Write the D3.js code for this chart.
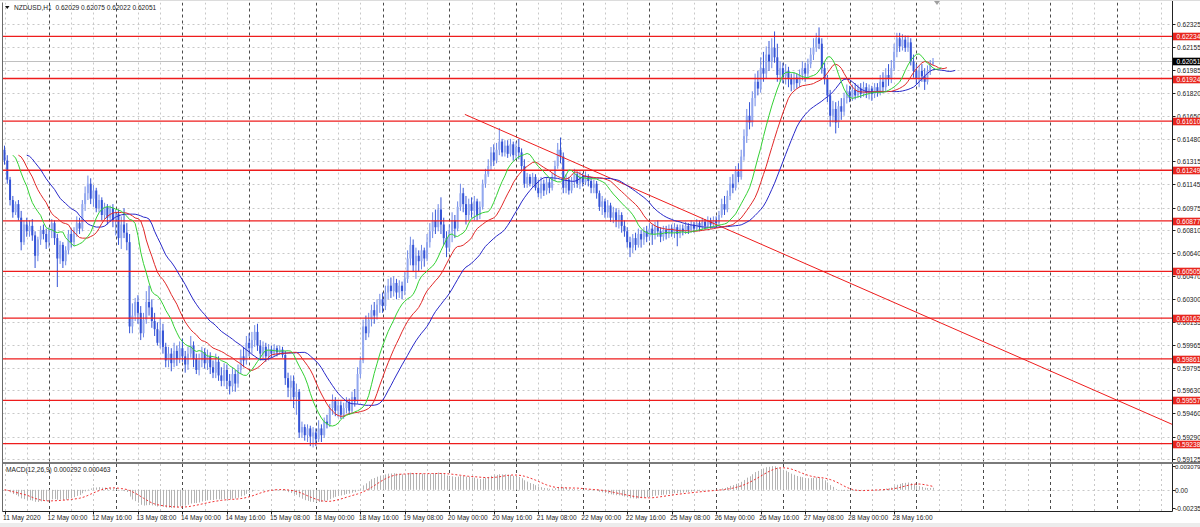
<!DOCTYPE html>
<html><head><meta charset="utf-8">
<script src="https://cdn.jsdelivr.net/npm/d3@7"></script>
<style>
html,body{margin:0;padding:0;background:#fff;}
svg{display:block;font-family:"Liberation Sans",Arial,sans-serif;}
</style></head><body>
<svg id="c" width="1200" height="527"></svg>
<script>
// ---------------- DATA ----------------
const symbolTitle = "NZDUSD,H1";
const lastQuote = ["0.62029","0.62075","0.62022","0.62051"];

const opens = [
.6140,.6132,.6118,.6103,.6094,.6100,.6090,.6072,.6085,.6080,
.6084,.6077,.6062,.6074,.6081,.6078,.6072,.6080,.6086,.6075,
.6060,.6070,.6058,.6066,.6078,.6072,.6080,.6086,.6082,.6100,
.6108,.6115,.6104,.6110,.6097,.6103,.6092,.6098,.6090,.6097,
.6088,.6093,.6075,.6085,.6079,.6072,.6010,.6018,.6028,.6020,
.6005,.6015,.6028,.6024,.6014,.6008,.5998,.6007,.5995,.5985,
.5990,.5983,.5992,.5986,.5994,.5988,.5982,.5990,.5996,.5986,
.5978,.5985,.5991,.5983,.5988,.5980,.5976,.5984,.5974,.5970,
.5978,.5970,.5966,.5975,.5968,.5978,.5988,.5985,.5998,.5994,
.6000,.6006,.5996,.5990,.5995,.5988,.5993,.5990,.5994,.5991,
.5993,.5989,.5972,.5965,.5970,.5958,.5962,.5932,.5936,.5930,
.5935,.5929,.5932,.5927,.5935,.5930,.5940,.5938,.5950,.5955,
.5948,.5952,.5945,.5950,.5954,.5948,.5958,.5955,.5975,.5985,
.6010,.6005,.6015,.6022,.6018,.6026,.6030,.6025,.6035,.6040,
.6036,.6042,.6035,.6040,.6036,.6045,.6060,.6070,.6055,.6062,
.6058,.6066,.6060,.6072,.6080,.6088,.6083,.6096,.6085,.6075,
.6068,.6080,.6088,.6082,.6098,.6108,.6100,.6092,.6100,.6095,
.6102,.6092,.6098,.6115,.6122,.6128,.6138,.6132,.6140,.6146,
.6138,.6143,.6137,.6144,.6136,.6142,.6138,.6128,.6115,.6120,
.6115,.6120,.6112,.6108,.6115,.6110,.6116,.6112,.6120,.6128,
.6140,.6135,.6112,.6118,.6110,.6116,.6122,.6115,.6120,.6116,
.6120,.6117,.6112,.6115,.6108,.6098,.6102,.6094,.6099,.6090,
.6094,.6088,.6092,.6084,.6080,.6072,.6068,.6075,.6070,.6078,
.6074,.6080,.6076,.6082,.6078,.6083,.6080,.6076,.6081,.6078,
.6082,.6079,.6083,.6078,.6082,.6080,.6084,.6081,.6085,.6082,
.6086,.6083,.6087,.6084,.6088,.6085,.6088,.6086,.6092,.6100,
.6096,.6106,.6115,.6112,.6124,.6120,.6135,.6150,.6165,.6160,
.6178,.6190,.6185,.6200,.6196,.6210,.6205,.6215,.6208,.6195,
.6200,.6194,.6198,.6192,.6188,.6193,.6189,.6195,.6200,.6196,
.6203,.6210,.6215,.6222,.6218,.6200,.6192,.6180,.6165,.6170,
.6160,.6172,.6168,.6178,.6183,.6178,.6184,.6180,.6185,.6181,
.6186,.6182,.6185,.6181,.6186,.6183,.6190,.6186,.6195,.6192,
.6200,.6212,.6222,.6216,.6221,.6215,.6219,.6205,.6198,.6192,
.6198,.6194,.6190,.6198,.62029];

const highs = [
.6143,.6136,.6120,.6106,.6102,.6103,.6095,.6088,.6090,.6088,
.6089,.6080,.6076,.6084,.6085,.6082,.6083,.6089,.6088,.6078,
.6073,.6072,.6069,.6081,.6082,.6083,.6091,.6090,.6103,.6113,
.6121,.6119,.6114,.6112,.6107,.6105,.6101,.6100,.6099,.6100,
.6096,.6096,.6091,.6097,.6086,.6078,.6027,.6031,.6033,.6025,
.6020,.6036,.6040,.6030,.6020,.6013,.6016,.6012,.5998,.5995,
.5994,.5998,.5996,.5999,.6001,.5992,.5995,.6003,.5999,.5990,
.5990,.5995,.5994,.5993,.5991,.5985,.5990,.5988,.5980,.5983,
.5982,.5975,.5980,.5978,.5982,.5993,.5995,.6003,.6005,.6006,
.6011,.6012,.6000,.5999,.5998,.5997,.5996,.5997,.5996,.5996,
.5995,.5992,.5976,.5974,.5974,.5968,.5964,.5940,.5938,.5938,
.5937,.5936,.5935,.5941,.5938,.5943,.5945,.5953,.5960,.5958,
.5956,.5955,.5954,.5958,.5957,.5962,.5964,.5980,.5988,.6015,
.6018,.6020,.6026,.6028,.6030,.6034,.6035,.6040,.6045,.6046,
.6047,.6045,.6044,.6043,.6050,.6066,.6076,.6074,.6068,.6066,
.6070,.6068,.6078,.6086,.6094,.6096,.6100,.6105,.6090,.6080,
.6085,.6094,.6092,.6102,.6115,.6112,.6106,.6104,.6105,.6106,
.6104,.6102,.6118,.6126,.6133,.6142,.6144,.6145,.6156,.6148,
.6147,.6147,.6148,.6146,.6146,.6148,.6141,.6133,.6123,.6122,
.6123,.6122,.6118,.6120,.6118,.6120,.6119,.6123,.6132,.6145,
.6149,.6138,.6122,.6120,.6120,.6126,.6124,.6124,.6123,.6124,
.6122,.6119,.6118,.6117,.6110,.6106,.6104,.6103,.6101,.6098,
.6097,.6096,.6094,.6088,.6083,.6076,.6078,.6079,.6082,.6081,
.6083,.6084,.6086,.6085,.6087,.6088,.6083,.6084,.6084,.6085,
.6085,.6086,.6085,.6085,.6085,.6087,.6086,.6088,.6087,.6089,
.6088,.6090,.6089,.6091,.6090,.6091,.6091,.6095,.6104,.6106,
.6110,.6120,.6122,.6128,.6130,.6140,.6155,.6170,.6175,.6183,
.6196,.6198,.6208,.6212,.6216,.6220,.6222,.6227,.6218,.6205,
.6204,.6203,.6201,.6196,.6197,.6196,.6199,.6205,.6204,.6207,
.6215,.6222,.6226,.6230,.6222,.6204,.6195,.6184,.6176,.6175,
.6176,.6178,.6182,.6188,.6187,.6188,.6189,.6188,.6189,.6190,
.6189,.6188,.6187,.6189,.6189,.6195,.6197,.6200,.6203,.6206,
.6218,.6226,.6226,.6225,.6224,.6224,.6222,.6210,.6203,.6202,
.6203,.6200,.6202,.6206,.62075];

const lows = [
.6129,.6115,.6099,.6090,.6092,.6088,.6066,.6070,.6076,.6076,
.6073,.6053,.6058,.6070,.6074,.6067,.6068,.6075,.6070,.6039,
.6056,.6053,.6055,.6063,.6068,.6069,.6076,.6078,.6080,.6095,
.6103,.6100,.6098,.6094,.6094,.6088,.6089,.6085,.6087,.6083,
.6077,.6070,.6067,.6075,.6066,.6005,.6005,.6014,.6012,.6000,
.6002,.6012,.6018,.6009,.6003,.5996,.5994,.5990,.5980,.5980,
.5977,.5980,.5981,.5983,.5984,.5976,.5978,.5987,.5980,.5975,
.5974,.5980,.5979,.5978,.5975,.5972,.5972,.5970,.5966,.5966,
.5964,.5960,.5962,.5962,.5965,.5975,.5980,.5982,.5988,.5990,
.5995,.5992,.5985,.5986,.5984,.5985,.5987,.5988,.5988,.5989,
.5987,.5967,.5958,.5955,.5950,.5945,.5928,.5928,.5926,.5925,
.5922,.5921,.5922,.5925,.5925,.5928,.5935,.5936,.5945,.5944,
.5943,.5942,.5942,.5946,.5945,.5946,.5951,.5953,.5972,.5983,
.6000,.6002,.6010,.6012,.6015,.6020,.6020,.6022,.6030,.6031,
.6032,.6030,.6031,.6030,.6033,.6042,.6055,.6050,.6045,.6050,
.6052,.6054,.6058,.6068,.6075,.6078,.6080,.6078,.6070,.6061,
.6065,.6072,.6075,.6080,.6095,.6094,.6085,.6088,.6090,.6088,
.6088,.6089,.6096,.6112,.6120,.6125,.6128,.6130,.6136,.6135,
.6135,.6134,.6135,.6132,.6133,.6133,.6125,.6112,.6112,.6113,
.6112,.6110,.6105,.6104,.6106,.6107,.6108,.6110,.6117,.6126,
.6130,.6108,.6108,.6107,.6108,.6112,.6112,.6111,.6113,.6114,
.6113,.6108,.6108,.6104,.6095,.6092,.6090,.6090,.6087,.6086,
.6083,.6082,.6079,.6076,.6068,.6061,.6064,.6066,.6068,.6068,
.6070,.6072,.6073,.6070,.6074,.6076,.6072,.6073,.6074,.6075,
.6076,.6075,.6069,.6075,.6077,.6078,.6078,.6079,.6079,.6080,
.6080,.6081,.6081,.6082,.6082,.6083,.6083,.6084,.6090,.6092,
.6094,.6103,.6108,.6110,.6116,.6118,.6132,.6145,.6155,.6157,
.6172,.6180,.6182,.6190,.6192,.6198,.6200,.6204,.6190,.6190,
.6189,.6188,.6186,.6183,.6184,.6185,.6186,.6191,.6190,.6193,
.6200,.6206,.6212,.6214,.6196,.6188,.6175,.6157,.6160,.6152,
.6156,.6162,.6165,.6174,.6175,.6176,.6177,.6178,.6178,.6179,
.6178,.6177,.6176,.6178,.6179,.6180,.6182,.6183,.6187,.6189,
.6198,.6208,.6212,.6213,.6212,.6212,.6202,.6193,.6188,.6186,
.6190,.6184,.6188,.6195,.62022];

const closes = [
.6132,.6118,.6103,.6094,.6100,.6090,.6072,.6085,.6080,.6084,
.6077,.6062,.6074,.6081,.6078,.6072,.6080,.6086,.6075,.6060,
.6070,.6058,.6066,.6078,.6072,.6080,.6086,.6082,.6100,.6108,
.6115,.6104,.6110,.6097,.6103,.6092,.6098,.6090,.6097,.6088,
.6093,.6075,.6085,.6079,.6072,.6010,.6018,.6028,.6020,.6005,
.6015,.6028,.6024,.6014,.6008,.5998,.6007,.5995,.5985,.5990,
.5983,.5992,.5986,.5994,.5988,.5982,.5990,.5996,.5986,.5978,
.5985,.5991,.5983,.5988,.5980,.5976,.5984,.5974,.5970,.5978,
.5970,.5966,.5975,.5968,.5978,.5988,.5985,.5998,.5994,.6000,
.6006,.5996,.5990,.5995,.5988,.5993,.5990,.5994,.5991,.5993,
.5989,.5972,.5965,.5970,.5958,.5962,.5932,.5936,.5930,.5935,
.5929,.5932,.5927,.5935,.5930,.5940,.5938,.5950,.5955,.5948,
.5952,.5945,.5950,.5954,.5948,.5958,.5955,.5975,.5985,.6010,
.6005,.6015,.6022,.6018,.6026,.6030,.6025,.6035,.6040,.6036,
.6042,.6035,.6040,.6036,.6045,.6060,.6070,.6055,.6062,.6058,
.6066,.6060,.6072,.6080,.6088,.6083,.6096,.6085,.6075,.6068,
.6080,.6088,.6082,.6098,.6108,.6100,.6092,.6100,.6095,.6102,
.6092,.6098,.6115,.6122,.6128,.6138,.6132,.6140,.6146,.6138,
.6143,.6137,.6144,.6136,.6142,.6138,.6128,.6115,.6120,.6115,
.6120,.6112,.6108,.6115,.6110,.6116,.6112,.6120,.6128,.6140,
.6135,.6112,.6118,.6110,.6116,.6122,.6115,.6120,.6116,.6120,
.6117,.6112,.6115,.6108,.6098,.6102,.6094,.6099,.6090,.6094,
.6088,.6092,.6084,.6080,.6072,.6068,.6075,.6070,.6078,.6074,
.6080,.6076,.6082,.6078,.6083,.6080,.6076,.6081,.6078,.6082,
.6079,.6083,.6078,.6082,.6080,.6084,.6081,.6085,.6082,.6086,
.6083,.6087,.6084,.6088,.6085,.6088,.6086,.6092,.6100,.6096,
.6106,.6115,.6112,.6124,.6120,.6135,.6150,.6165,.6160,.6178,
.6190,.6185,.6200,.6196,.6210,.6205,.6215,.6208,.6195,.6200,
.6194,.6198,.6192,.6188,.6193,.6189,.6195,.6200,.6196,.6203,
.6210,.6215,.6222,.6218,.6200,.6192,.6180,.6165,.6170,.6160,
.6172,.6168,.6178,.6183,.6178,.6184,.6180,.6185,.6181,.6186,
.6182,.6185,.6181,.6186,.6183,.6190,.6186,.6195,.6192,.6200,
.6212,.6222,.6216,.6221,.6215,.6219,.6205,.6198,.6192,.6198,
.6194,.6190,.6198,.6203,.62051];

const xTickIdx = [0,16,32,48,64,80,96,112,128,144,160,176,192,208,224,240,256,272,288,304,320];
const xTickLabels = ["11 May 2020","12 May 00:00","12 May 16:00","13 May 08:00","14 May 00:00",
  "14 May 16:00","15 May 08:00","18 May 00:00","18 May 16:00","19 May 08:00","20 May 00:00",
  "20 May 16:00","21 May 08:00","22 May 00:00","22 May 16:00","25 May 08:00","26 May 00:00",
  "26 May 16:00","27 May 08:00","28 May 00:00","28 May 16:00"];

const priceTicks = [0.62325,0.62155,0.61985,0.61820,0.61650,0.61480,0.61315,0.61145,0.60975,0.60810,
  0.60640,0.60470,0.60300,0.60135,0.59965,0.59795,0.59630,0.59460,0.59290,0.59125];
const levelPrices = [0.62234,0.61924,0.61610,0.61249,0.60877,0.60505,0.60162,0.59861,0.59557,0.59238];
const bidPrice = 0.62051;
const trendIdx = [165.6, 420];
const trendPrice = [0.6166, 0.5938];

const macdTicks = [0.003079, 0, -0.00235];
const macdTickLabels = ["0.003079","0.00","-0.00235"];
const macdParams = [12,26,9];
const macdLegend = ["0.000292","0.000463"];
const alligatorPeriods = [13,8,5];  // jaw, teeth, lips
const alligatorShifts  = [8,5,3];

// ---------------- LAYOUT ----------------
const W=1200,H=527;
const plotL=2.5, plotR=1172.5, mainTop=2.5, mainBot=462.5, macdTop=464, macdBot=511.5;
const N = closes.length;
const svg=d3.select("#c");
svg.append("rect").attr("width",W).attr("height",H).attr("fill","#fff");
svg.append("rect").attr("x",0).attr("y",523).attr("width",W).attr("height",4).attr("fill","#ececec");

const x=d3.scaleLinear().domain([0,420]).range([4.5,4.5+420*2.78]);
const y=d3.scaleLinear().domain([priceTicks[priceTicks.length-1],priceTicks[0]]).range([459,24]);
const ym=d3.scaleLinear().domain([macdTicks[2],macdTicks[0]]).range([508,466]);

const defs=svg.append("defs");
defs.append("clipPath").attr("id","cm").append("rect").attr("x",plotL).attr("y",mainTop).attr("width",plotR-plotL).attr("height",mainBot-mainTop);
defs.append("clipPath").attr("id","cd").append("rect").attr("x",plotL).attr("y",macdTop).attr("width",plotR-plotL).attr("height",macdBot-macdTop);

const gMain=svg.append("g").attr("clip-path","url(#cm)");
const gMacd=svg.append("g").attr("clip-path","url(#cd)");

// vertical grid
const vIdx=d3.range(0,421,8);
[[gMain,mainTop,mainBot],[gMacd,macdTop,macdBot]].forEach(([g,t,b])=>{
  vIdx.forEach(i=>{
    const dark=((i-16)%24===0);
    const xx=Math.round(x(i))+0.5;
    g.append("line").attr("x1",xx).attr("x2",xx).attr("y1",t).attr("y2",b)
      .attr("stroke",dark?"#4a4a4a":"#c8c8c8").attr("stroke-width",1)
      .attr("stroke-dasharray",dark?"3,3":"2,3");
  });
});
// horizontal grid
priceTicks.forEach(p=>{
  const yy=Math.round(y(p))+0.5;
  gMain.append("line").attr("x1",plotL).attr("x2",plotR).attr("y1",yy).attr("y2",yy)
    .attr("stroke","#c8c8c8").attr("stroke-dasharray","2,3");
});
gMacd.append("line").attr("x1",plotL).attr("x2",plotR).attr("y1",Math.round(ym(0))+0.5).attr("y2",Math.round(ym(0))+0.5)
  .attr("stroke","#c8c8c8").attr("stroke-dasharray","2,3");

// bid line
gMain.append("line").attr("x1",plotL).attr("x2",plotR).attr("y1",Math.round(y(bidPrice))+0.5).attr("y2",Math.round(y(bidPrice))+0.5)
  .attr("stroke","#c0c0c0");

// candles
const cg=gMain.append("g");
d3.range(N).forEach(i=>{
  const up=closes[i]>=opens[i];
  const xc=x(i);
  cg.append("line").attr("x1",xc).attr("x2",xc).attr("y1",y(highs[i])).attr("y2",y(lows[i]))
    .attr("stroke",up?"#6f89e6":"#3554d6").attr("stroke-width",1);
  const top=y(Math.max(opens[i],closes[i])), bot=y(Math.min(opens[i],closes[i]));
  cg.append("rect").attr("x",xc-1).attr("y",top).attr("width",2).attr("height",Math.max(1,bot-top))
    .attr("fill",up?"#93a8ef":"#3554d6");
});

// levels
levelPrices.forEach(p=>{
  const yy=y(p);
  gMain.append("line").attr("x1",plotL).attr("x2",plotR).attr("y1",yy).attr("y2",yy)
    .attr("stroke","#ee1c1c").attr("stroke-width",1.3);
});
// trend line
gMain.append("line").attr("x1",x(trendIdx[0])).attr("y1",y(trendPrice[0]))
  .attr("x2",x(trendIdx[1])).attr("y2",y(trendPrice[1])).attr("stroke","#ee1c1c").attr("stroke-width",1);

// alligator
const median=highs.map((h,i)=>(h+lows[i])/2);
function smma(src,n){const out=[];let s;src.forEach((v,i)=>{s=(i===0)?v:(s*(n-1)+v)/n;out.push(s);});return out;}
const allColors=["#2828c8","#e02828","#34d034"];
alligatorPeriods.forEach((n,k)=>{
  const vals=smma(median,n);
  const sh=alligatorShifts[k];
  const line=d3.line().x((d,i)=>x(i+sh)).y(d=>y(d));
  gMain.append("path").attr("d",line(vals)).attr("fill","none").attr("stroke",allColors[k]).attr("stroke-width",1);
});

// MACD
function ema(src,n){const a=2/(n+1);const out=[];let e;src.forEach((v,i)=>{e=(i===0)?v:e+a*(v-e);out.push(e);});return out;}
const e1=ema(closes,macdParams[0]), e2=ema(closes,macdParams[1]);
const macdMain=e1.map((v,i)=>v-e2[i]);
const macdSig=macdMain.map((v,i)=>{const s=Math.max(0,i-macdParams[2]+1);return d3.mean(macdMain.slice(s,i+1));});
macdMain.forEach((v,i)=>{
  const xx=Math.round(x(i))+0.5;
  gMacd.append("line").attr("x1",xx).attr("x2",xx).attr("y1",ym(0)).attr("y2",ym(v))
    .attr("stroke","#b4b4b4").attr("stroke-width",1);
});
gMacd.append("path").attr("d",d3.line().x((d,i)=>x(i)).y(d=>ym(d))(macdSig))
  .attr("fill","none").attr("stroke","#f03030").attr("stroke-width",1).attr("stroke-dasharray","2,2");

// frame
svg.append("line").attr("x1",plotL).attr("x2",plotL).attr("y1",mainTop).attr("y2",macdBot).attr("stroke","#6a6a6a");
svg.append("line").attr("x1",plotR).attr("x2",plotR).attr("y1",0).attr("y2",macdBot).attr("stroke","#222");
svg.append("line").attr("x1",plotL).attr("x2",plotR).attr("y1",macdBot).attr("y2",macdBot).attr("stroke","#222");
svg.append("line").attr("x1",plotL).attr("x2",W).attr("y1",463).attr("y2",463).attr("stroke","#7a7a7a").attr("stroke-width",2);
svg.append("line").attr("x1",0).attr("x2",W).attr("y1",0.5).attr("y2",0.5).attr("stroke","#dcdcdc");

const fs="6.6px";
// price axis ticks & labels
const ax=svg.append("g").attr("font-size",fs).attr("fill","#222");
priceTicks.forEach(p=>{
  const yy=Math.round(y(p))+0.5;
  ax.append("line").attr("x1",plotR).attr("x2",plotR+3).attr("y1",yy).attr("y2",yy).attr("stroke","#222");
  ax.append("text").attr("x",1177).attr("y",yy+2.4).text(p.toFixed(5));
});
levelPrices.forEach(p=>{
  const yy=Math.round(y(p))+0.5;
  ax.append("rect").attr("x",1173).attr("y",yy-3.8).attr("width",27).attr("height",7.6).attr("fill","#e8261e");
  ax.append("text").attr("x",1176.5).attr("y",yy+2.4).attr("fill","#fff").text(p.toFixed(5));
});
{
  const yy=Math.round(y(bidPrice))+0.5;
  ax.append("rect").attr("x",1173).attr("y",yy-3.8).attr("width",27).attr("height",7.6).attr("fill","#000");
  ax.append("text").attr("x",1176.5).attr("y",yy+2.4).attr("fill","#fff").text(bidPrice.toFixed(5));
}
macdTicks.forEach((v,i)=>{
  const yy=Math.round(ym(v))+0.5;
  ax.append("line").attr("x1",plotR).attr("x2",plotR+3).attr("y1",yy).attr("y2",yy).attr("stroke","#222");
  ax.append("text").attr("x",1175).attr("y",yy+2.4).attr("font-size",i===0?"6.1px":fs).text(macdTickLabels[i]);
});
// time axis
xTickIdx.forEach((i,k)=>{
  const xx=Math.round(x(i))+0.5;
  ax.append("line").attr("x1",xx).attr("x2",xx).attr("y1",macdBot).attr("y2",macdBot+3).attr("stroke","#222");
  ax.append("text").attr("x",x(i)-1.5).attr("y",520.3).text(xTickLabels[k]);
});
// titles
svg.append("path").attr("d","M5,6 L9.5,6 L7.25,9 Z").attr("fill","#111");
svg.append("text").attr("x",14).attr("y",10).attr("font-size",fs).attr("fill","#222")
  .attr("xml:space","preserve").text(symbolTitle+"  "+lastQuote.join(" "));
svg.append("text").attr("x",6).attr("y",471.5).attr("font-size",fs).attr("fill","#222")
  .text("MACD("+macdParams.join(",")+") "+macdLegend.join(" "));
// chart shift marker
svg.append("path").attr("d","M934,1 L940,1 L937,5 Z").attr("fill","#a0a0a0");
</script>
</body></html>
